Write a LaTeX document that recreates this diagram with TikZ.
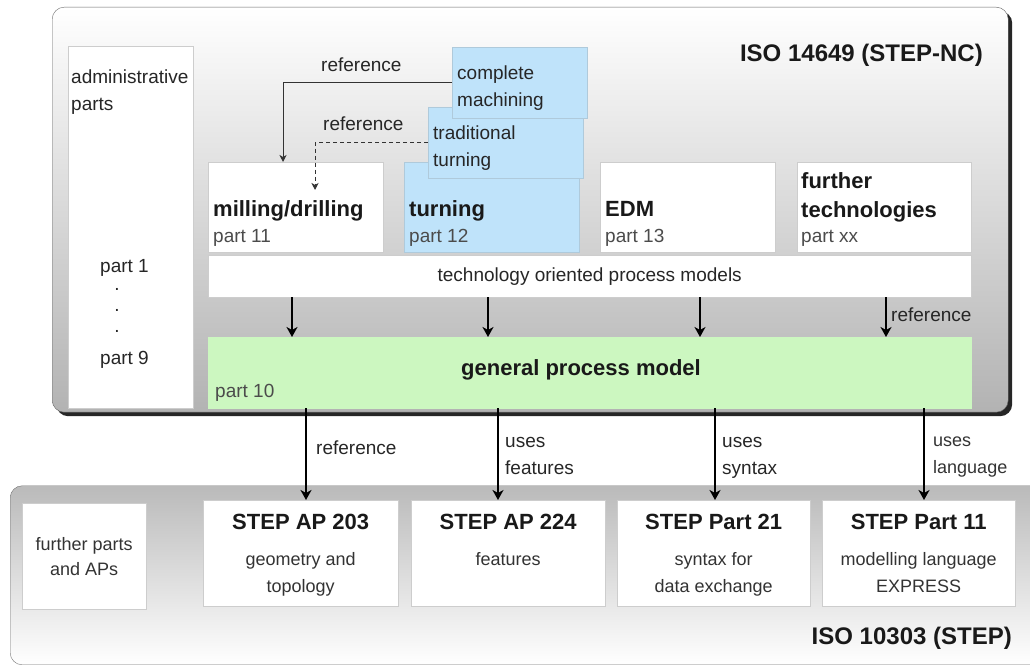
\documentclass[tikz,border=0pt]{standalone}
\usepackage{fontspec}
\setmainfont{Liberation Sans}
\usetikzlibrary{arrows.meta,shapes,shadows}
\definecolor{partblue}{RGB}{191,227,250}
\definecolor{partgreen}{RGB}{204,247,192}
\definecolor{boxline}{RGB}{205,205,205}
\definecolor{txtgray}{RGB}{75,75,75}
\tikzstyle{format}=[rectangle,draw=boxline,fill=white,inner sep=0pt,anchor=north west]
\tikzstyle{bluebox}=[format,fill=partblue,draw=partblue!75!gray]
\tikzstyle{head}=[font=\fontsize{22}{29}\selectfont\bfseries,inner sep=0pt,text=black!90]
\tikzstyle{txt}=[font=\fontsize{19}{27}\selectfont,inner sep=0pt,text=black!85,align=left]
\tikzstyle{sub}=[font=\fontsize{19}{27}\selectfont,inner sep=0pt,text=txtgray]
\tikzstyle{small}=[font=\fontsize{18}{27}\selectfont,inner sep=0pt,text=black!80,align=center]
\tikzstyle{title}=[font=\fontsize{24}{28}\selectfont\bfseries,inner sep=0pt,text=black!90]
\tikzstyle{norm}=[-{Stealth[length=10pt,width=11pt,inset=3pt]},line width=1.5pt]
\tikzstyle{thinref}=[-{Stealth[length=7pt,width=7pt,inset=2pt]},line width=0.9pt,black!80]

\begin{document}
\begin{tikzpicture}[x=1pt,y=1pt]
  \useasboundingbox (0,0) rectangle (1030,666);
  % ISO 10303 (STEP)
  \node[rectangle,rounded corners=12pt,draw=black!55,top color=black!27,bottom color=white,minimum width=1040pt,minimum height=179pt,anchor=south west] (step) at (10,1) {};
  \node[title,anchor=base east] (stepname) at (1012,21) {ISO 10303 (STEP)};
  % ISO 14649 (STEP-NC)
  \node[rectangle,rounded corners=12pt,draw=black!60,top color=white,bottom color=black!30,minimum width=956pt,minimum height=405pt,anchor=north west,drop shadow={shadow xshift=4pt,shadow yshift=-4pt,fill=black!85,opacity=1}] (nc) at (52,659) {};
  \node[title,anchor=base east] (ncname) at (983,604) {ISO 14649 (STEP-NC)};
  % administrative parts
  \node[format,minimum width=125pt,minimum height=362pt] (admin) at (68,620) {};
  \node[txt,anchor=north west] (admintxt) at (71,596) {administrative\\parts};
  \node[txt,anchor=base west] (part1) at (100,393) {part 1};
  \foreach \y [count=\i] in {375,354,333}
    \node[txt,anchor=base] (dot\i) at (117,\y) {.};
  \node[txt,anchor=base west] (part9) at (100,301) {part 9};
  % technology parts
  \node[format,minimum width=175pt,minimum height=90pt] (mill) at (208,504) {};
  \node[bluebox,minimum width=175pt,minimum height=90pt] (turn) at (404,504) {};
  \node[bluebox,minimum width=155pt,minimum height=71pt] (trad) at (428,559) {};
  \node[bluebox,minimum width=135pt,minimum height=71pt] (comp) at (452,619) {};
  \node[format,minimum width=175pt,minimum height=90pt] (edm) at (600,504) {};
  \node[format,minimum width=174pt,minimum height=90pt] (further) at (797,504) {};
  \node[head,anchor=base west] (milltxt) at (213,449) {milling/drilling};
  \node[sub,anchor=base west] (millpart) at (213,423) {part 11};
  \node[head,anchor=base west] (turntxt) at (409,449) {turning};
  \node[sub,anchor=base west] (turnpart) at (409,423) {part 12};
  \node[txt,anchor=north west] (tradtxt) at (433,540) {traditional\\turning};
  \node[txt,anchor=north west] (comptxt) at (457,600) {complete\\machining};
  \node[head,anchor=base west] (edmtxt) at (605,449) {EDM};
  \node[sub,anchor=base west] (edmpart) at (605,423) {part 13};
  \node[head,anchor=north west,align=left] (furthertxt) at (801,494) {further\\technologies};
  \node[sub,anchor=base west] (furtherpart) at (801,423) {part xx};
  \node[format,minimum width=763pt,minimum height=42pt,font=\fontsize{19}{22}\selectfont,text=black!85] (tech) at (208,411) {technology oriented process models};
  % general process model
  \node[format,fill=partgreen,draw=partgreen,minimum width=763pt,minimum height=71pt] (gpm) at (208,329) {};
  \node[head,anchor=base] (gpmtxt) at (581,290) {general process model};
  \node[sub,anchor=base west] (gpmpart) at (215,268) {part 10};
  % references inside STEP-NC
  \coordinate (m1) at (283,504);
  \coordinate (m2) at (315,476);
  \draw[thinref] (comp.west) -| (m1);
  \draw[thinref,dash pattern=on 4pt off 3pt] (trad.west) -| (m2);
  \node[txt,anchor=base west] (ref1) at (321,594) {reference};
  \node[txt,anchor=base west] (ref2) at (323,535) {reference};
  \foreach \x in {292,488,700,886}
    \draw[norm] (tech.south -| \x,0) -- (gpm.north -| \x,0);
  \node[txt,anchor=base west] (ref3) at (891,344) {reference};
  % STEP parts
  \node[format,minimum width=124pt,minimum height=106pt,font=\fontsize{18}{25}\selectfont,text=black!80,align=center] (fparts) at (22,163) {further parts\\and APs};
  \node[format,minimum width=195pt,minimum height=106pt] (ap203) at (203,166) {};
  \node[format,minimum width=194pt,minimum height=106pt] (ap224) at (411,166) {};
  \node[format,minimum width=193pt,minimum height=106pt] (p21) at (617,166) {};
  \node[format,minimum width=193pt,minimum height=106pt] (p11) at (822,166) {};
  \node[head,anchor=base] (ap203txt) at ([yshift=-30pt]ap203.north) {STEP AP 203};
  \node[small,anchor=north] (ap203sub) at ([yshift=-52pt]ap203.north) {geometry and\\topology};
  \node[head,anchor=base] (ap224txt) at ([yshift=-30pt]ap224.north) {STEP AP 224};
  \node[small,anchor=north] (ap224sub) at ([yshift=-52pt]ap224.north) {features};
  \node[head,anchor=base] (p21txt) at ([yshift=-30pt]p21.north) {STEP Part 21};
  \node[small,anchor=north] (p21sub) at ([yshift=-52pt]p21.north) {syntax for\\data exchange};
  \node[head,anchor=base] (p11txt) at ([yshift=-30pt]p11.north) {STEP Part 11};
  \node[small,anchor=north] (p11sub) at ([yshift=-52pt]p11.north) {modelling language\\EXPRESS};
  % links to STEP
  \draw[norm] (gpm.south -| 306,0) -- (ap203.north -| 306,0);
  \draw[norm] (gpm.south -| 498,0) -- (ap224.north -| 498,0);
  \draw[norm] (gpm.south -| 715,0) -- (p21.north -| 715,0);
  \draw[norm] (gpm.south -| 924,0) -- (p11.north -| 924,0);
  \node[txt,anchor=base west] (lref) at (316,211) {reference};
  \node[txt,anchor=north west] (lfeat) at (505,229) {uses\\features};
  \node[txt,anchor=north west] (lsyn) at (722,229) {uses\\syntax};
  \node[small,align=left,anchor=north west] (llang) at (933,229) {uses\\language};
\end{tikzpicture}
\end{document}
